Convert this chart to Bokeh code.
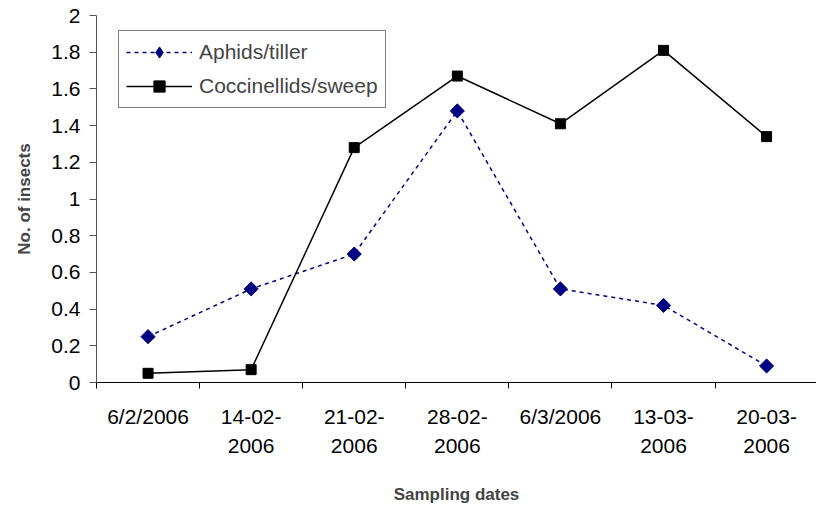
import math
from bokeh.plotting import figure
from bokeh.models import (LinearAxis, FixedTicker, Range1d, Legend, LegendItem,
                          CustomJSTickFormatter, ColumnDataSource)
from bokeh.embed import file_html
from bokeh.resources import INLINE

dates = ["6/2/2006", "14-02-\n2006", "21-02-\n2006", "28-02-\n2006",
         "6/3/2006", "13-03-\n2006", "20-03-\n2006"]
aphids = [0.25, 0.51, 0.70, 1.48, 0.51, 0.42, 0.09]
coccinellids = [0.05, 0.07, 1.28, 1.67, 1.41, 1.81, 1.34]
y_ticks = [0, 0.2, 0.4, 0.6, 0.8, 1.0, 1.2, 1.4, 1.6, 1.8, 2.0]

xpos = [i + 0.5 for i in range(len(dates))]
src = ColumnDataSource(dict(x=xpos, aphids=aphids, cocc=coccinellids))

FONT = "Liberation Sans"

p = figure(width=816, height=507, output_backend="svg", toolbar_location=None,
           x_range=Range1d(0, 6.984), y_range=Range1d(0, 2),
           x_axis_type=None, y_axis_type=None,
           min_border_left=96, min_border_top=15, min_border_bottom=124,
           min_border_right=0)
p.outline_line_color = None
p.background_fill_color = "white"
p.border_fill_color = "white"

# y axis
yax = LinearAxis(ticker=FixedTicker(ticks=y_ticks),
                 formatter=CustomJSTickFormatter(code="return String(Math.round(tick*10)/10)"))
yax.axis_line_color = "#555555"
yax.major_tick_line_color = "#555555"
yax.major_tick_out = 7
yax.major_tick_in = 0
yax.minor_tick_line_color = None
yax.major_label_standoff = 9
yax.major_label_text_font = FONT
yax.major_label_text_font_size = "21px"
yax.major_label_text_color = "black"
yax.axis_label = "No. of insects"
yax.axis_label_text_font = FONT
yax.axis_label_text_font_style = "bold"
yax.axis_label_text_font_size = "17px"
yax.axis_label_standoff = 14
p.add_layout(yax, "left")

# x axis: tick marks between categories
xax1 = LinearAxis(ticker=FixedTicker(ticks=list(range(len(dates) + 1))),
                  formatter=CustomJSTickFormatter(code="return ''"))
xax1.axis_line_color = "black"
xax1.major_tick_line_color = "black"
xax1.major_tick_out = 6
xax1.major_tick_in = 0
xax1.minor_tick_line_color = None
xax1.major_label_standoff = 0
p.add_layout(xax1, "below")

# x axis: category labels
xax2 = LinearAxis(ticker=FixedTicker(ticks=xpos),
                  formatter=CustomJSTickFormatter(args=dict(labels=dates),
                                                  code="return labels[Math.floor(tick)]"))
xax2.axis_line_color = None
xax2.major_tick_line_color = None
xax2.major_tick_out = 0
xax2.major_tick_in = 0
xax2.minor_tick_line_color = None
xax2.major_label_standoff = 16
xax2.major_label_text_font = FONT
xax2.major_label_text_font_size = "21px"
xax2.major_label_text_line_height = 1.3
xax2.major_label_text_color = "black"
xax2.axis_label = "Sampling dates"
xax2.axis_label_text_font = FONT
xax2.axis_label_text_font_style = "bold"
xax2.axis_label_text_font_size = "17px"
xax2.axis_label_standoff = 25
p.add_layout(xax2, "below")

l1 = p.line("x", "aphids", source=src, line_color="#000080", line_width=1.5, line_dash="4 4")
s1 = p.scatter("x", "aphids", source=src, marker="square", size=10, angle=math.pi / 4,
               fill_color="#000080", line_color="#000080")
l2 = p.line("x", "cocc", source=src, line_color="black", line_width=1.5)
s2 = p.scatter("x", "cocc", source=src, marker="square", size=10,
               fill_color="black", line_color="black")
# legend-only diamond marker (single point outside the visible range)
s1_leg = p.scatter(x=[-10], y=[-10], marker="diamond", size=15,
                   fill_color="#000080", line_color="#000080")

legend = Legend(items=[LegendItem(label="Aphids/tiller", renderers=[l1, s1_leg]),
                       LegendItem(label="Coccinellids/sweep", renderers=[l2, s2])],
                location=(22, 274))
legend.border_line_color = "black"
legend.border_line_width = 1
legend.background_fill_color = "white"
legend.background_fill_alpha = 1
legend.label_text_font = FONT
legend.label_text_font_size = "21px"
legend.glyph_width = 66
legend.glyph_height = 28
legend.label_height = 28
legend.spacing = 6
legend.padding = 7
legend.margin = 0
legend.label_standoff = 7
p.add_layout(legend)

open("out.html", "w").write(file_html(p, INLINE))
